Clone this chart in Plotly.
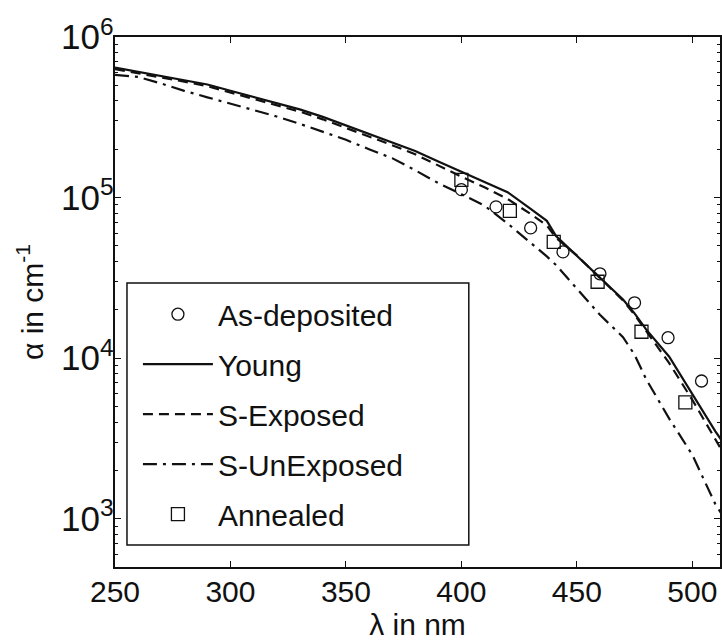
import plotly.graph_objects as go

# wavelength grid (nm) for the model curves
wl = [250, 260, 270, 280, 290, 300, 310, 320, 330, 340, 350, 360, 370, 380, 390,
      400, 410, 420, 430, 437, 441, 450, 460, 470, 475, 480, 490, 500, 510, 515]

young = [644e3, 607e3, 571e3, 537e3, 506e3, 463e3, 424e3, 387e3, 354e3, 318e3,
         282e3, 250e3, 222e3, 195e3, 168e3, 145e3, 125e3, 108e3, 85e3, 71.6e3,
         57.5e3, 43.3e3, 31.4e3, 23.2e3, 19.0e3, 15.1e3, 10.2e3, 6.0e3, 3.5e3, 2.75e3]

s_exposed = [631e3, 596e3, 560e3, 527e3, 494e3, 452e3, 413e3, 376e3, 343e3, 307e3,
             272e3, 240e3, 212e3, 186e3, 158e3, 135e3, 116e3, 98e3, 79e3, 67e3,
             56e3, 43.6e3, 31.6e3, 22.9e3, 18.6e3, 14.8e3, 9.3e3, 5.5e3, 3.1e3, 2.35e3]

s_unexposed = [581e3, 565e3, 513e3, 462e3, 421e3, 385e3, 351e3, 320e3, 288e3, 257e3,
               229e3, 200e3, 176e3, 148e3, 123e3, 105e3, 89e3, 69e3, 52.5e3, 43e3,
               38e3, 26.9e3, 18.6e3, 13.5e3, 10.5e3, 7.4e3, 4.2e3, 2.5e3, 1.23e3, 0.95e3]

# measured points
asdep_x = [400, 415, 430, 444, 460, 475, 489.5, 504]
asdep_y = [112e3, 87.5e3, 64.7e3, 45.9e3, 33.5e3, 22.1e3, 13.4e3, 7.2e3]

ann_x = [400, 421, 440, 459, 478, 497]
ann_y = [129e3, 82.6e3, 53e3, 29.9e3, 14.6e3, 5.3e3]

x_ticks = [250, 300, 350, 400, 450, 500]

FONT = "Liberation Sans, Arial, Helvetica, sans-serif"
BLACK = "#111111"

fig = go.Figure()
fig.add_trace(go.Scatter(x=asdep_x, y=asdep_y, mode="markers", name="As-deposited",
                         legendgroup="a",
                         marker=dict(symbol="circle-open", size=12, color=BLACK,
                                     line=dict(width=1.3, color=BLACK))))
fig.add_trace(go.Scatter(x=wl, y=young, mode="lines", name="Young", legendgroup="b",
                         line=dict(color=BLACK, width=2.2)))
fig.add_trace(go.Scatter(x=wl, y=s_exposed, mode="lines", name="S-Exposed", legendgroup="c",
                         line=dict(color=BLACK, width=2.2, dash="10px,6px")))
fig.add_trace(go.Scatter(x=wl, y=s_unexposed, mode="lines", name="S-UnExposed", legendgroup="d",
                         line=dict(color=BLACK, width=2.2, dash="14px,6px,3px,6px")))
fig.add_trace(go.Scatter(x=ann_x, y=ann_y, mode="markers", name="Annealed", legendgroup="e",
                         marker=dict(symbol="square-open", size=13, color=BLACK,
                                     line=dict(width=1.3, color=BLACK))))

# legend frame (paper coords of the plotting area)
fig.add_shape(type="rect", xref="paper", yref="paper",
              x0=0.0198, x1=0.5848, y0=0.0415, y1=0.5358,
              line=dict(color=BLACK, width=1.5), fillcolor="rgba(0,0,0,0)", layer="above")

fig.update_layout(
    width=722, height=642,
    margin=dict(l=115, r=0, t=37, b=75),
    paper_bgcolor="white", plot_bgcolor="white",
    font=dict(family=FONT, size=30, color=BLACK),
    showlegend=True,
    legend=dict(x=0.0379, y=0.526, xanchor="left", yanchor="top",
                bgcolor="rgba(0,0,0,0)", borderwidth=0,
                font=dict(family=FONT, size=30, color=BLACK),
                itemwidth=70, tracegroupgap=8, traceorder="grouped"),
    xaxis=dict(range=[250, 512], tickvals=x_ticks, ticktext=[str(v) for v in x_ticks],
               ticks="inside", ticklen=6, tickwidth=1.2, tickcolor=BLACK,
               showline=True, linecolor=BLACK, linewidth=1.5, mirror="ticks",
               showgrid=False, zeroline=False, ticklabelstandoff=-3,
               tickfont=dict(family=FONT, size=30),
               title=dict(text="λ in nm", font=dict(family=FONT, size=30), standoff=4)),
    yaxis=dict(type="log", range=[2.699, 6], dtick=1, exponentformat="power",
               ticks="inside", ticklen=6, tickwidth=1.2, tickcolor=BLACK,
               showline=True, linecolor=BLACK, linewidth=1.5, mirror="ticks",
               showgrid=False, zeroline=False, ticklabelstandoff=-6,
               tickfont=dict(family=FONT, size=28),
               minor=dict(dtick="D1", ticks="inside", ticklen=3, tickwidth=1,
                          tickcolor=BLACK, showgrid=False),
               title=dict(text="α in cm<sup>-1</sup>", font=dict(family=FONT, size=30), standoff=9)),
)

fig.write_html("out.html")
